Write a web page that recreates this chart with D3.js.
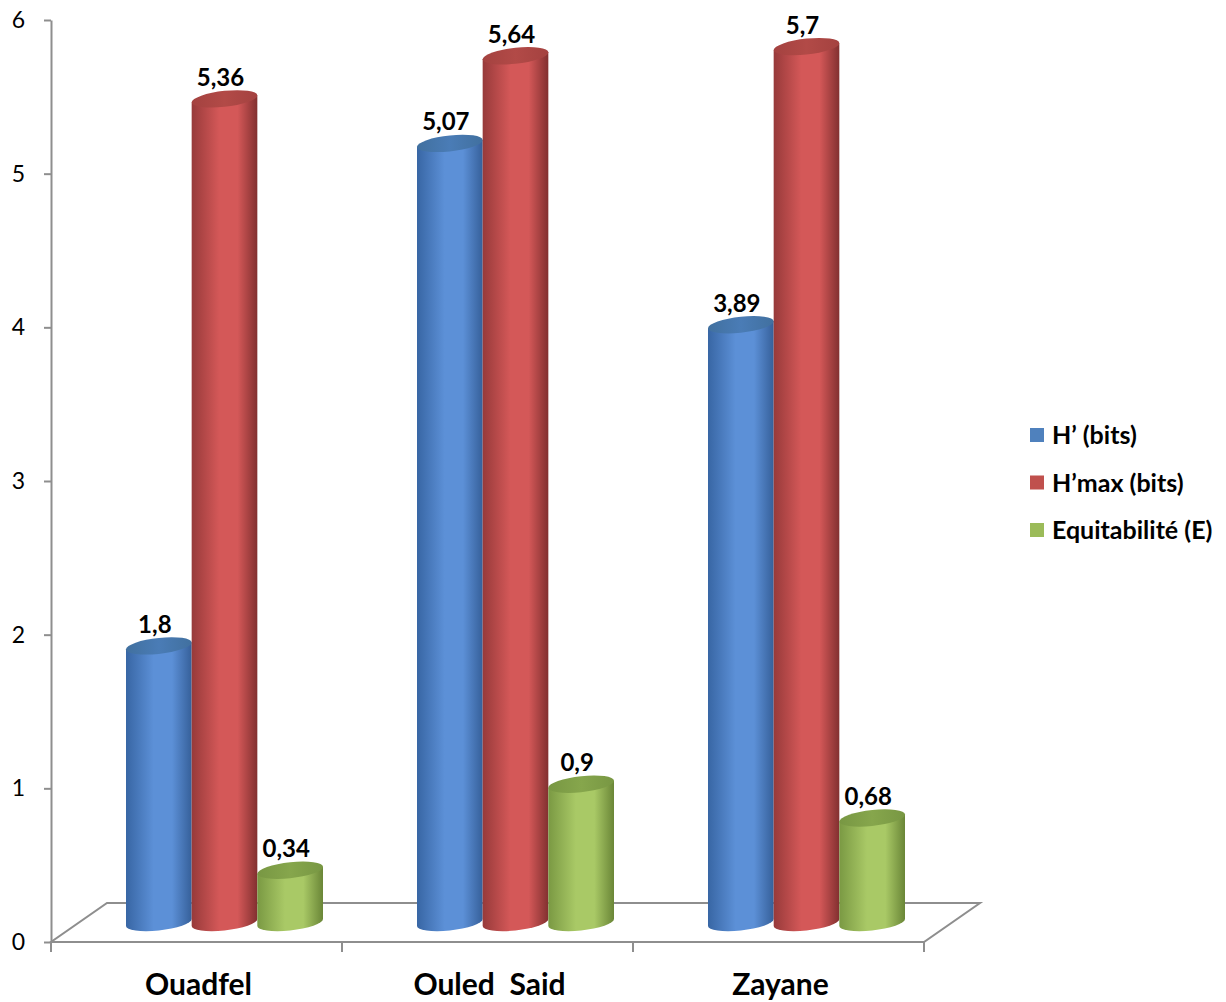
<!DOCTYPE html>
<html>
<head>
<meta charset="utf-8">
<script src="https://cdn.jsdelivr.net/npm/d3@7"></script>
<style>
  body { margin: 0; background: #fff; }
  svg { display: block; font-family: Lato, "Open Sans", "DejaVu Sans", sans-serif; }
</style>
</head>
<body>
<svg id="chart" width="1226" height="1002"></svg>
<script>
// Diversity indices per station
const categories = ["Ouadfel", "Ouled  Said", "Zayane"];
const seriesNames = ["H’ (bits)", "H’max (bits)", "Equitabilité (E)"];
const hValues = [1.8, 5.07, 3.89];
const hMaxValues = [5.36, 5.64, 5.7];
const eValues = [0.34, 0.9, 0.68];
const yTicks = [0, 1, 2, 3, 4, 5, 6];

const seriesValues = [hValues, hMaxValues, eValues];

// Cylinder shading per series: edges, highlight and top face
const palette = [
  { legend: "#4f81bd", left: "#3866a4", mid: "#5c90d7", right: "#36609a", top: "#41709f", topLight: "#4a7cb6" },
  { legend: "#c0504d", left: "#973a3a", mid: "#d45858", right: "#823030", top: "#a44240", topLight: "#b24a47" },
  { legend: "#9bbb59", left: "#7a9943", mid: "#a9c966", right: "#6a8637", top: "#789743", topLight: "#86a64c" }
];

const svg = d3.select("#chart");
const defs = svg.append("defs");
palette.forEach((p, j) => {
  const g = defs.append("linearGradient").attr("id", "body" + j)
    .attr("x1", 0).attr("x2", 1).attr("y1", 0).attr("y2", 0);
  g.append("stop").attr("offset", "0%").attr("stop-color", p.left);
  g.append("stop").attr("offset", "42%").attr("stop-color", p.mid);
  g.append("stop").attr("offset", "70%").attr("stop-color", p.mid);
  g.append("stop").attr("offset", "100%").attr("stop-color", p.right);
  const t = defs.append("linearGradient").attr("id", "top" + j)
    .attr("x1", 0).attr("x2", 1).attr("y1", 0).attr("y2", 0);
  t.append("stop").attr("offset", "0%").attr("stop-color", p.top);
  t.append("stop").attr("offset", "50%").attr("stop-color", p.topLight);
  t.append("stop").attr("offset", "100%").attr("stop-color", p.top);
});

// Front plane scales
const x = d3.scaleBand().domain(categories).range([51, 924]).paddingInner(0).paddingOuter(0);
const y = d3.scaleLinear().domain([0, 6]).range([942, 20]);
// Series within a category, in band-local coordinates
const inner = d3.scaleBand().domain(seriesNames).range([47, 244]).padding(0);

// Oblique depth of the floor
const depthX = 56, depthY = -39;
const axisColor = "#8e8e8e";

// Floor
const x0 = x.range()[0], x1 = x.range()[1], yb = y(0);
svg.append("path")
  .attr("d", `M${x0},${yb}L${x1},${yb}L${x1 + depthX},${yb + depthY}L${x0 + depthX},${yb + depthY}Z`)
  .attr("fill", "none").attr("stroke", axisColor).attr("stroke-width", 2);

// Category boundary ticks
const edges = [x0].concat(categories.map(c => x(c) + x.bandwidth()));
svg.append("g").selectAll("line").data(edges).join("line")
  .attr("x1", d => d).attr("x2", d => d)
  .attr("y1", yb).attr("y2", yb + 10)
  .attr("stroke", axisColor).attr("stroke-width", 2);

// Category labels
svg.append("g").selectAll("text").data(categories).join("text")
  .attr("x", d => x(d) + x.bandwidth() / 2 + 2)
  .attr("y", 995)
  .attr("text-anchor", "middle")
  .style("white-space", "pre")
  .attr("font-size", 30).attr("font-weight", "bold").attr("fill", "#000")
  .text(d => d);

// Value axis
const yAxis = svg.append("g").attr("transform", `translate(${x0},0)`)
  .call(d3.axisLeft(y).tickValues(yTicks).tickSize(7).tickSizeOuter(0).tickPadding(19).tickFormat(d3.format("d")));
yAxis.select(".domain").attr("stroke", axisColor).attr("stroke-width", 2);
yAxis.selectAll(".tick line").attr("stroke", axisColor).attr("stroke-width", 2);
yAxis.selectAll(".tick text").attr("font-size", 23).attr("fill", "#000")
  .attr("font-family", "Lato, 'Open Sans', sans-serif");

// Cylinders sit on the middle depth of the floor
const midX = depthX / 2, midY = depthY / 2;
const rx = inner.bandwidth() / 2, ry = 8;
const skew = -6;

const bars = [];
categories.forEach((c, i) => {
  seriesNames.forEach((s, j) => {
    bars.push({ c, s, j, v: seriesValues[j][i] });
  });
});

const cyl = svg.append("g").selectAll("g").data(bars).join("g")
  .attr("transform", d => `translate(${x(d.c) + inner(d.s) + rx + midX},0) skewY(${skew})`);

cyl.append("path")
  .attr("d", d => {
    const yt = y(d.v) + midY, yB = y(0) + midY;
    return `M${-rx},${yt}L${-rx},${yB}A${rx},${ry} 0 0 0 ${rx},${yB}L${rx},${yt}Z`;
  })
  .attr("fill", d => `url(#body${d.j})`);

cyl.append("ellipse")
  .attr("cx", 0).attr("cy", d => y(d.v) + midY)
  .attr("rx", rx).attr("ry", ry)
  .attr("fill", d => `url(#top${d.j})`);

// Value labels
svg.append("g").selectAll("text").data(bars).join("text")
  .attr("x", d => x(d.c) + inner(d.s) + rx + midX - 4)
  .attr("y", d => y(d.v) + midY - 13)
  .attr("text-anchor", "middle")
  .attr("font-size", 24).attr("font-weight", "bold").attr("fill", "#000")
  .text(d => String(d.v).replace(".", ","));

// Legend
const legend = svg.append("g").selectAll("g").data(seriesNames).join("g")
  .attr("transform", (d, j) => `translate(1030,${435 + j * 47.5})`);
legend.append("rect").attr("x", 0).attr("y", -7).attr("width", 14).attr("height", 14)
  .attr("fill", (d, j) => palette[j].legend);
legend.append("text").attr("x", 22).attr("y", 0).attr("dy", "0.36em")
  .attr("font-size", 25).attr("font-weight", "bold").attr("fill", "#000")
  .text(d => d);
</script>
</body>
</html>
